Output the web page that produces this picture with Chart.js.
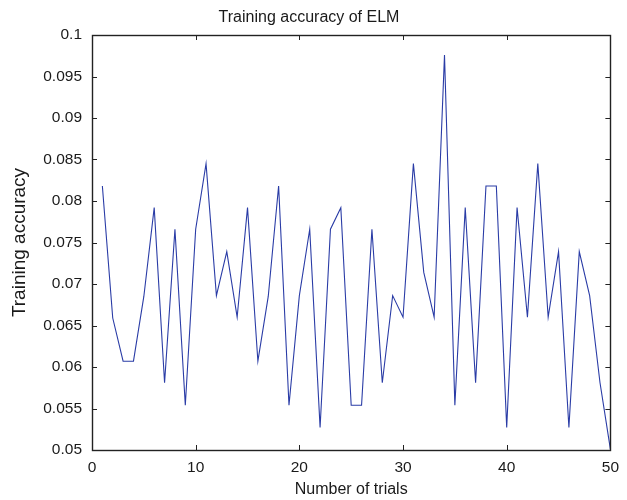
<!DOCTYPE html>
<html>
<head>
<meta charset="utf-8">
<script src="https://cdn.jsdelivr.net/npm/chart.js@4/dist/chart.umd.min.js"></script>
<style>
  html, body { margin: 0; padding: 0; background: #ffffff; }
  #wrap { width: 627px; height: 500px; position: relative; }
</style>
</head>
<body>
<div id="wrap"><canvas id="c" width="627" height="500"></canvas></div>
<script>
const trials = [1,2,3,4,5,6,7,8,9,10,11,12,13,14,15,16,17,18,19,20,21,22,23,24,25,26,27,28,29,30,31,32,33,34,35,36,37,38,39,40,41,42,43,44,45,46,47,48,49,50];
const accuracy = [0.0818,0.0659,0.0607,0.0607,0.0685,0.0792,0.0581,0.0766,0.0554,0.0766,
                  0.0845,0.0686,0.0739,0.0660,0.0792,0.0607,0.0685,0.0818,0.0554,0.0686,
                  0.0766,0.0527,0.0766,0.0792,0.0554,0.0554,0.0766,0.0581,0.0686,0.0660,
                  0.0845,0.0714,0.0660,0.0976,0.0554,0.0792,0.0581,0.0818,0.0818,0.0527,
                  0.0792,0.0660,0.0845,0.0660,0.0739,0.0527,0.0739,0.0686,0.0581,0.0501];
const xTickLabels = ['0','10','20','30','40','50'];
const yTickLabels = ['0.05','0.055','0.06','0.065','0.07','0.075','0.08','0.085','0.09','0.095','0.1'];

const FONT = "'Liberation Sans', Arial, Helvetica, sans-serif";
const AXIS = '#222222';
const TEXT = '#1a1a1a';

const framePlugin = {
  id: 'frame',
  afterDraw(chart) {
    const ctx = chart.ctx;
    const a = chart.chartArea;
    const xs = chart.scales.x, ys = chart.scales.y;
    const L = 5;
    ctx.save();
    ctx.strokeStyle = AXIS;
    ctx.lineWidth = 1;
    ctx.beginPath();
    xs.ticks.forEach(t => {
      const px = Math.round(xs.getPixelForValue(t.value)) + 0.5;
      ctx.moveTo(px, a.bottom); ctx.lineTo(px, a.bottom - L);
      ctx.moveTo(px, a.top); ctx.lineTo(px, a.top + L);
    });
    ys.ticks.forEach(t => {
      const py = Math.round(ys.getPixelForValue(t.value)) + 0.5;
      ctx.moveTo(a.left, py); ctx.lineTo(a.left + L, py);
      ctx.moveTo(a.right, py); ctx.lineTo(a.right - L, py);
    });
    ctx.stroke();
    ctx.lineWidth = 1.4;
    ctx.strokeRect(Math.round(a.left) + 0.5, Math.round(a.top) + 0.5,
                   Math.round(a.right - a.left), Math.round(a.bottom - a.top));
    ctx.restore();
  }
};

new Chart(document.getElementById('c'), {
  type: 'line',
  data: {
    datasets: [{
      data: trials.map((t, i) => ({ x: t, y: accuracy[i] })),
      borderColor: '#2a3ca6',
      borderWidth: 1.1,
      pointRadius: 0,
      tension: 0,
      fill: false
    }]
  },
  options: {
    responsive: false,
    animation: false,
    layout: { padding: { left: 0, right: 9, top: 0, bottom: 0 } },
    plugins: {
      legend: { display: false },
      tooltip: { enabled: false },
      title: {
        display: true,
        text: 'Training accuracy of ELM',
        color: TEXT,
        font: { family: FONT, size: 16, weight: 'normal' },
        padding: { top: 8, bottom: 7.8 }
      }
    },
    scales: {
      x: {
        type: 'linear',
        min: 0, max: 50,
        afterFit(s) { s.height = 50; },
        ticks: {
          stepSize: 10,
          color: TEXT,
          font: { family: FONT, size: 15.5 },
          padding: 8,
          maxRotation: 0,
          callback: (v) => xTickLabels[Math.round(v / 10)]
        },
        grid: { display: false, drawTicks: false },
        border: { display: false },
        title: {
          display: true,
          text: 'Number of trials',
          color: TEXT,
          font: { family: FONT, size: 16 },
          padding: { top: 0, bottom: 1 }
        }
      },
      y: {
        min: 0.05, max: 0.1,
        afterFit(s) { s.width = 92; },
        ticks: {
          stepSize: 0.005,
          color: TEXT,
          font: { family: FONT, size: 15.5 },
          padding: 10,
          callback: (v) => yTickLabels[Math.round((v - 0.05) / 0.005)]
        },
        grid: { display: false, drawTicks: false },
        border: { display: false },
        title: {
          display: true,
          text: 'Training accuracy',
          color: TEXT,
          font: { family: FONT, size: 19 },
          padding: { top: 8, bottom: 0 }
        }
      }
    }
  },
  plugins: [framePlugin]
});
</script>
</body>
</html>
